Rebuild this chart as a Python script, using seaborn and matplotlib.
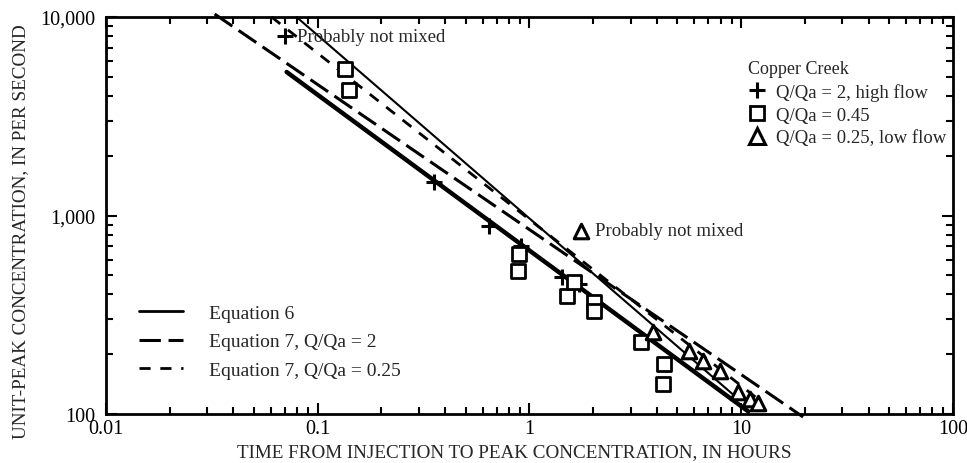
import numpy as np
import pandas as pd
import matplotlib
matplotlib.use("Agg")
import matplotlib.pyplot as plt
from matplotlib.lines import Line2D
from matplotlib.ticker import LogLocator, NullFormatter, FixedLocator, FixedFormatter
import seaborn as sns

# Copper Creek measurements (hours, per second)
plus_time = [0.070, 0.355, 0.644, 0.912, 1.42, 1.71]
plus_conc = [8000, 1480, 885, 700, 490, 452]

square_time = [0.134, 0.141, 0.89, 0.88, 1.50, 1.62, 2.02, 2.02, 3.35, 4.3, 4.25]
square_conc = [5470, 4290, 640, 525, 393, 465, 368, 330, 230, 179, 142]

triangle_time = [1.75, 3.85, 5.64, 6.63, 7.98, 9.68, 11.0, 12.0]
triangle_conc = [836, 259, 207, 185, 165, 129, 119, 114]

# equation lines, end points
eq6_time = [0.0794, 9.68]
eq6_conc = [10000, 119]
fit_time = [0.0713, 10.8]
fit_conc = [5285, 103]
eq7_q2_time = [0.0326, 19.6]
eq7_q2_conc = [10350, 96.6]
eq7_q025_time = [0.0605, 12.0]
eq7_q025_conc = [10000, 119]

x_ticks = [0.01, 0.1, 1, 10, 100]
x_labels = ["0.01", "0.1", "1", "10", "100"]
y_ticks = [100, 1000, 10000]
y_labels = ["100", "1,000", "10,000"]

sns.set_style("ticks")
plt.rcParams["font.family"] = ["Liberation Serif", "DejaVu Serif"]

fig = plt.figure(figsize=(9.67, 4.64), dpi=100)
ax = fig.add_axes([0.1096, 0.1056, 0.8759, 0.8556])
ax.set_xscale("log")
ax.set_yscale("log")
ax.set_xlim(0.01, 100)
ax.set_ylim(100, 10000)

lines = [
    (eq6_time, eq6_conc, 1.5, None),
    (fit_time, fit_conc, 3.2, None),
    (eq7_q2_time, eq7_q2_conc, 2.2, (7, 2.5)),
    (eq7_q025_time, eq7_q025_conc, 2.0, (4, 3.5)),
]
for t, c, lw, dash in lines:
    df = pd.DataFrame({"t": t, "c": c})
    sns.lineplot(data=df, x="t", y="c", ax=ax, color="black", lw=lw)
    line = ax.lines[-1]
    line.set_clip_on(False)
    if dash is not None:
        line.set_dashes(dash)

pts = pd.concat([
    pd.DataFrame({"t": plus_time, "c": plus_conc, "g": "plus"}),
    pd.DataFrame({"t": square_time, "c": square_conc, "g": "square"}),
    pd.DataFrame({"t": triangle_time, "c": triangle_conc, "g": "tri"}),
])
sns.scatterplot(data=pts[pts.g == "plus"], x="t", y="c", ax=ax, marker="+",
                s=130, color="black", linewidth=2.2, legend=False, zorder=5)
sns.scatterplot(data=pts[pts.g == "square"], x="t", y="c", ax=ax, marker="s",
                s=105, facecolor="white", edgecolor="black", linewidth=2, legend=False, zorder=5)
sns.scatterplot(data=pts[pts.g == "tri"], x="t", y="c", ax=ax, marker="^",
                s=110, facecolor="white", edgecolor="black", linewidth=2.2, legend=False, zorder=5)

ax.annotate("Probably not mixed", (plus_time[0], plus_conc[0]), xytext=(9, 0),
            textcoords="offset points", va="center", ha="left", fontsize=13.5)
ax.annotate("Probably not mixed", (triangle_time[0], triangle_conc[0]), xytext=(10, 0),
            textcoords="offset points", va="center", ha="left", fontsize=13.5)

ax.xaxis.set_major_locator(FixedLocator(x_ticks))
ax.xaxis.set_major_formatter(FixedFormatter(x_labels))
ax.yaxis.set_major_locator(FixedLocator(y_ticks))
ax.yaxis.set_major_formatter(FixedFormatter(y_labels))
ax.xaxis.set_minor_locator(LogLocator(base=10, subs=np.arange(2, 10)))
ax.yaxis.set_minor_locator(LogLocator(base=10, subs=np.arange(2, 10)))
ax.xaxis.set_minor_formatter(NullFormatter())
ax.yaxis.set_minor_formatter(NullFormatter())
ax.tick_params(which="both", direction="in", top=True, right=True, width=1.5, colors="black")
ax.tick_params(which="major", length=8, labelsize=14.5)
ax.tick_params(axis="y", which="major", pad=8)
ax.tick_params(which="minor", length=5)
for s in ax.spines.values():
    s.set_linewidth(2)
    s.set_color("black")

ax.set_xlabel("TIME FROM INJECTION TO PEAK CONCENTRATION, IN HOURS", fontsize=13.8)
ax.set_ylabel("UNIT-PEAK CONCENTRATION, IN PER SECOND", fontsize=13.8)
ax.xaxis.set_label_coords(0.482, -0.074)
ax.yaxis.set_label_coords(-0.091, 0.463)

# line legend, lower left
line_handles = [
    Line2D([], [], color="black", lw=2),
    Line2D([], [], color="black", lw=2.2, dashes=(7, 2.5)),
    Line2D([], [], color="black", lw=2.0, dashes=(4, 3.5)),
]
leg1 = ax.legend(line_handles,
                 ["Equation 6", "Equation 7, Q/Qa = 2", "Equation 7, Q/Qa = 0.25"],
                 loc="lower left", bbox_to_anchor=(0.018, 0.045), frameon=False,
                 fontsize=14, handlelength=2.3, handletextpad=1.3, labelspacing=0.55)
ax.add_artist(leg1)

marker_handles = [
    Line2D([], [], ls="", marker="+", ms=11, mew=2.2, color="black"),
    Line2D([], [], ls="", marker="s", ms=10, mew=2, mfc="white", mec="black"),
    Line2D([], [], ls="", marker="^", ms=11, mew=2.2, mfc="white", mec="black"),
]
leg2 = ax.legend(marker_handles,
                 ["Q/Qa = 2, high flow", "Q/Qa = 0.45", "Q/Qa = 0.25, low flow"],
                 title="Copper Creek", loc="upper left", bbox_to_anchor=(0.738, 0.933),
                 frameon=False, fontsize=13.5, title_fontsize=13,
                 handlelength=1.0, handletextpad=0.5, labelspacing=0.3)
leg2._legend_box.align = "left"

fig.savefig("out.png", dpi=100)
